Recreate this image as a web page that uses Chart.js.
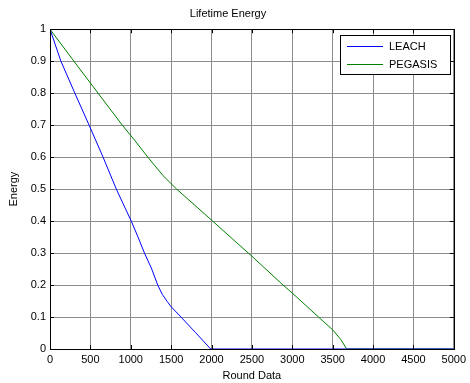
<!DOCTYPE html>
<html>
<head>
<meta charset="utf-8">
<script src="https://cdn.jsdelivr.net/npm/chart.js@4.4.0/dist/chart.umd.min.js"></script>
<style>
  html, body { margin: 0; padding: 0; background: #fff; }
  #wrap { width: 470px; height: 383px; }
</style>
</head>
<body>
<div id="wrap"><canvas id="energyChart" width="470" height="383"></canvas></div>
<script>
// values
const leachRounds = [0, 135, 308, 484, 657, 821, 1006, 1090, 1170, 1260, 1334, 1390, 1450, 1500, 1622, 1800, 1990, 5000];
const leachEnergy = [1.0, 0.9, 0.8, 0.7, 0.6, 0.5, 0.4, 0.35, 0.3, 0.25, 0.2, 0.171, 0.149, 0.132, 0.1, 0.052, 0.0, 0.0];

const pegasisRounds = [0, 296, 595, 895, 1047, 1211, 1400, 1568, 2000, 2500, 2886, 3000, 3325, 3500, 3600, 3674, 5000];
const pegasisEnergy = [1.0, 0.9, 0.8, 0.7, 0.653, 0.6, 0.542, 0.5, 0.403, 0.29, 0.2, 0.175, 0.1, 0.06, 0.03, 0.0, 0.0];

const seriesNames = ['LEACH', 'PEGASIS'];
const seriesColors = ['#0000ff', '#008000'];

const FONT = 'Liberation Sans, Arial, Helvetica, sans-serif';

function toPoints(xs, ys) {
    return xs.map((x, i) => ({ x: x, y: ys[i] }));
}

// box around plot + inward ticks like matlab
const axesBox = {
    id: 'axesBox',
    afterDatasetsDraw(chart) {
        const { ctx, chartArea: a, scales } = chart;
        ctx.save();
        ctx.strokeStyle = '#000';
        ctx.lineWidth = 1;
        ctx.beginPath();
        scales.x.ticks.forEach(t => {
            const px = Math.round(scales.x.getPixelForValue(t.value)) + 0.5;
            ctx.moveTo(px, a.bottom); ctx.lineTo(px, a.bottom - 4);
            ctx.moveTo(px, a.top); ctx.lineTo(px, a.top + 4);
        });
        scales.y.ticks.forEach(t => {
            const py = Math.round(scales.y.getPixelForValue(t.value)) + 0.5;
            ctx.moveTo(a.left, py); ctx.lineTo(a.left + 4, py);
            ctx.moveTo(a.right, py); ctx.lineTo(a.right - 4, py);
        });
        ctx.stroke();
        ctx.strokeRect(Math.round(a.left) + 0.5, Math.round(a.top) + 0.5,
            Math.round(a.right - a.left), Math.round(a.bottom - a.top));
        ctx.restore();
    }
};

// legend drawn inside the axes, top right, with a frame
const boxLegend = {
    id: 'boxLegend',
    afterDraw(chart) {
        const { ctx, chartArea: a } = chart;
        const w = 110, h = 39;
        const x0 = Math.round(a.right - 4 - w);
        const y0 = Math.round(a.top + 6);
        ctx.save();
        ctx.fillStyle = '#fff';
        ctx.fillRect(x0, y0, w, h);
        ctx.strokeStyle = '#000';
        ctx.lineWidth = 1;
        ctx.strokeRect(x0 + 0.5, y0 + 0.5, w, h);
        ctx.font = '11px ' + FONT;
        ctx.textBaseline = 'middle';
        seriesNames.forEach((name, i) => {
            const cy = y0 + 11 + i * 18;
            ctx.fillStyle = seriesColors[i];
            ctx.fillRect(x0 + 7, cy, 36, 1);
            ctx.fillStyle = '#000';
            ctx.fillText(name, x0 + 49, cy + 0.5);
        });
        ctx.restore();
    }
};

const ctx = document.getElementById('energyChart').getContext('2d');
const chart = new Chart(ctx, {
    type: 'line',
    data: {
        datasets: [{
            label: seriesNames[0],
            data: toPoints(leachRounds, leachEnergy),
            borderColor: seriesColors[0],
            borderWidth: 1,
            pointRadius: 0,
            tension: 0,
            fill: false
        }, {
            label: seriesNames[1],
            data: toPoints(pegasisRounds, pegasisEnergy),
            borderColor: seriesColors[1],
            borderWidth: 1,
            pointRadius: 0,
            tension: 0,
            fill: false
        }]
    },
    options: {
        responsive: false,
        animation: false,
        layout: { padding: { left: 0, right: 14, top: 0, bottom: 0 } },
        plugins: {
            legend: { display: false },
            tooltip: { enabled: false },
            title: {
                display: true,
                text: 'Lifetime Energy',
                color: '#000',
                font: { family: FONT, size: 11, weight: 'normal' },
                padding: { top: 7, bottom: 9 }
            }
        },
        scales: {
            x: {
                type: 'linear',
                min: 0,
                max: 5000,
                afterFit(scale) { scale.height = 34; },
                ticks: {
                    stepSize: 500,
                    color: '#000',
                    padding: 4,
                    maxRotation: 0,
                    font: { family: FONT, size: 11 },
                    callback: v => String(v)
                },
                grid: { color: '#8c8c8c', lineWidth: 1, drawTicks: false },
                border: { display: false },
                title: {
                    display: true,
                    text: 'Round Data',
                    color: '#000',
                    font: { family: FONT, size: 11 },
                    padding: { top: 0, bottom: 0 }
                }
            },
            y: {
                type: 'linear',
                min: 0,
                max: 1,
                afterFit(scale) { scale.width = 50; },
                ticks: {
                    stepSize: 0.1,
                    color: '#000',
                    padding: 4,
                    font: { family: FONT, size: 11 },
                    callback: v => String(Math.round(v * 10) / 10)
                },
                grid: { color: '#8c8c8c', lineWidth: 1, drawTicks: false },
                border: { display: false },
                title: {
                    display: true,
                    text: 'Energy',
                    color: '#000',
                    font: { family: FONT, size: 11 },
                    padding: { top: 7, bottom: 0 }
                }
            }
        }
    },
    plugins: [axesBox, boxLegend]
});
</script>
</body>
</html>
